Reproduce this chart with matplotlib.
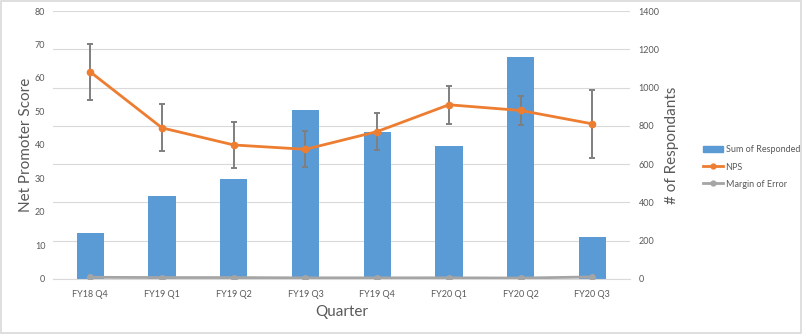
import matplotlib
matplotlib.use("Agg")
import matplotlib.pyplot as plt
from matplotlib.patches import Rectangle
from matplotlib.lines import Line2D

quarters = ["FY18 Q4", "FY19 Q1", "FY19 Q2", "FY19 Q3", "FY19 Q4", "FY20 Q1", "FY20 Q2", "FY20 Q3"]
responded = [239, 435, 521, 881, 766, 693, 1158, 218]
nps = [61.8, 45.1, 40.0, 38.7, 44.0, 52.0, 50.3, 46.3]
margin_of_error = [8.3, 7.0, 6.9, 5.4, 5.5, 5.6, 4.4, 10.2]

plt.rcParams['font.family'] = ['Lato', 'DejaVu Sans']

fig = plt.figure(figsize=(8.03, 3.34), dpi=100)
fig.patches.append(Rectangle((0.001, 0.002), 0.997, 0.995, transform=fig.transFigure,
                             fill=False, edgecolor="#d9d9d9", linewidth=1.2))

ax = fig.add_axes([0.066, 0.165, 0.719, 0.802])
ax2 = ax.twinx()

x = list(range(len(quarters)))
tick_col = "#595959"

ax.set_zorder(ax2.get_zorder() + 1)
ax.patch.set_visible(False)

ax2.bar(x, responded, width=0.38, color="#5B9BD5", zorder=2)
ax2.plot(x, margin_of_error, color="#A5A5A5", linewidth=2, marker="o", markersize=4, zorder=3)
ax2.set_ylim(0, 1400)
ax2.set_yticks(range(0, 1401, 200))

ax.errorbar(x, nps, yerr=margin_of_error, color="#ED7D31", linewidth=2, marker="o", markersize=4.5,
            ecolor="#7F7F7F", elinewidth=1.4, capsize=2.5, capthick=1.4, zorder=4)
ax.set_ylim(0, 80)
ax.set_yticks(range(0, 81, 10))
ax.set_xlim(-0.52, 7.53)
ax.set_xticks(x)
ax.set_xticklabels(quarters)

ax2.grid(False)
ax2.yaxis.grid(True, color="#D9D9D9", linewidth=0.8)
ax2.set_axisbelow(True)

for a in (ax, ax2):
    for s in a.spines.values():
        s.set_visible(False)
    a.tick_params(length=0, labelsize=6.5, labelcolor=tick_col)
ax.tick_params(axis="y", pad=5.5)
ax.tick_params(axis="x", pad=8)
ax2.tick_params(axis="y", pad=6)
ax2.spines["bottom"].set_visible(True)
ax2.spines["bottom"].set_color("#D9D9D9")

ax.set_ylabel("Net Promoter Score", fontsize=11, color=tick_col, labelpad=1.5)
ax.set_xlabel("Quarter", fontsize=11, color=tick_col, labelpad=4)
ax2.set_ylabel("# of Respondants", fontsize=11, color=tick_col, labelpad=4)

handles = [
    Rectangle((0, 0), 1, 1, color="#5B9BD5"),
    Line2D([], [], color="#ED7D31", linewidth=2, marker="o", markersize=3.5),
    Line2D([], [], color="#A5A5A5", linewidth=2, marker="o", markersize=3.5),
]
labels = ["Sum of Responded", "NPS", "Margin of Error"]
fig.legend(handles, labels, loc="center left", bbox_to_anchor=(0.871, 0.5), frameon=False,
           fontsize=6.5, labelcolor=tick_col, handlelength=2.2, handletextpad=0.3,
           labelspacing=0.9, borderaxespad=0)

fig.savefig("out.png", dpi=100)
